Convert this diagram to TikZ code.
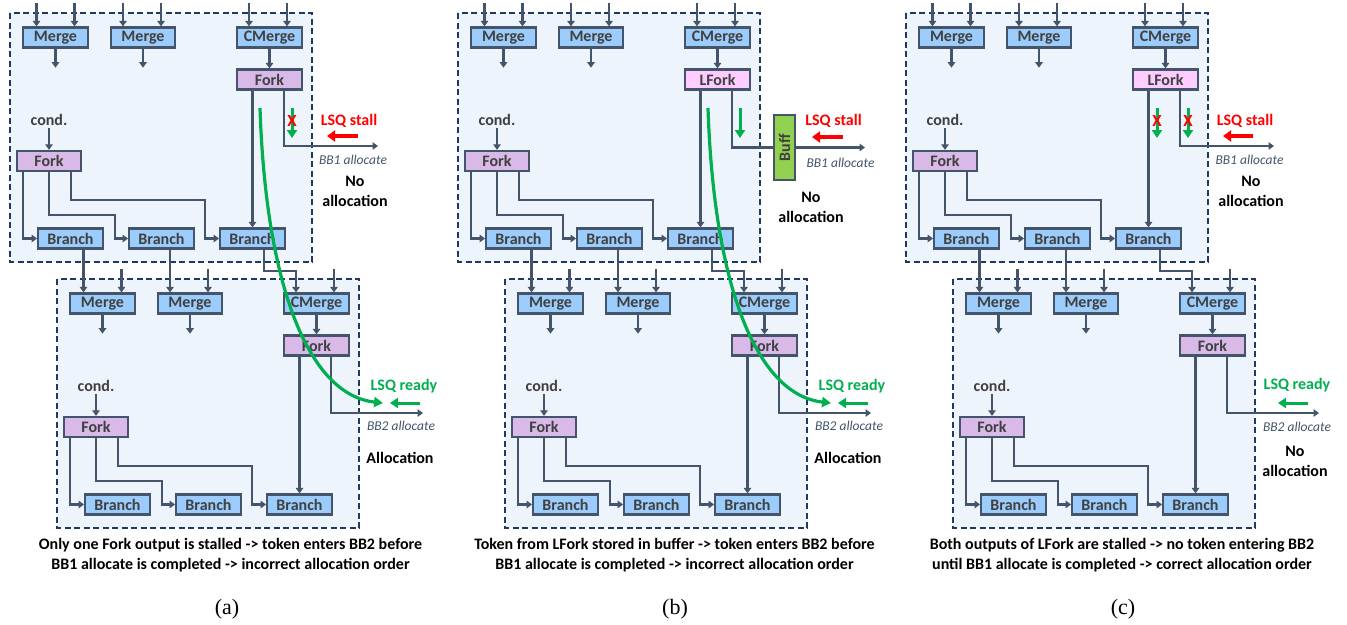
\documentclass[tikz,border=0pt]{standalone}
\usepackage{fontspec}
\setmainfont{Carlito}
\newfontfamily\capserif{Liberation Serif}
\usetikzlibrary{arrows.meta,calc}

\definecolor{slate}{HTML}{44546A}
\definecolor{navy}{HTML}{1F3864}
\definecolor{boxblue}{HTML}{9BCCFB}
\definecolor{forkc}{HTML}{D8B9E8}
\definecolor{lforkc}{HTML}{FFCCFF}
\definecolor{buffc}{HTML}{92D050}
\definecolor{bbfill}{HTML}{EEF4FB}
\definecolor{txtc}{HTML}{404040}
\definecolor{okgreen}{HTML}{00B050}
\definecolor{stopred}{HTML}{FF0000}

\tikzset{
  blk/.style={draw=slate, line width=2.3pt, fill=boxblue, minimum width=64.5pt,
    minimum height=20pt, inner sep=0pt, text=txtc,
    font=\bfseries\fontsize{16}{19}\selectfont},
  buffbox/.style={draw=slate, line width=2.3pt, fill=buffc, minimum width=20.5pt,
    minimum height=64.5pt, inner sep=0pt, text=txtc,
    font=\bfseries\fontsize{16}{19}\selectfont},
  bbox/.style={draw=navy, line width=2.4pt, dash pattern=on 6pt off 3.5pt, fill=bbfill},
  wire/.style={draw=slate, line width=2.2pt, -{Triangle[length=5.5pt,width=7.5pt]}},
  garr/.style={draw=okgreen, line width=3pt, -{Triangle[length=8pt,width=10pt]}},
  rarr/.style={draw=stopred, line width=3.5pt, -{Triangle[length=8pt,width=11pt]}},
  gcurve/.style={draw=okgreen, line width=3.2pt, -{Triangle[length=9pt,width=10pt]}},
  condlbl/.style={text=txtc, font=\bfseries\fontsize{16}{19}\selectfont, inner sep=0pt},
  stalllbl/.style={text=stopred, font=\bfseries\fontsize{16}{19}\selectfont, inner sep=0pt},
  readylbl/.style={text=okgreen, font=\bfseries\fontsize{16}{19}\selectfont, inner sep=0pt},
  xmark/.style={text=stopred, font=\bfseries\fontsize{17}{19}\selectfont, inner sep=0pt},
  alloclbl/.style={text=slate, font=\itshape\fontsize{13.5}{16}\selectfont, inner sep=0pt},
  verdict/.style={text=black, font=\bfseries\fontsize{16}{20}\selectfont, align=center, inner sep=0pt},
  caption/.style={text=black, font=\bfseries\fontsize{16}{20}\selectfont, align=center, inner sep=0pt},
  sublbl/.style={text=black, font=\capserif\fontsize{22}{24}\selectfont, inner sep=0pt},
}

% One basic block: container, merges, forks, branches and their internal wiring.
% #1 name prefix, #2 fill of the upper fork, #3 label of the upper fork
\newcommand\bbunit[3]{%
  \draw[bbox] (10,13) rectangle (312,262);
  \node[blk] (#1m1) at (55.5,37.5) {Merge};
  \node[blk] (#1m2) at (143,37.5) {Merge};
  \node[blk] (#1cm) at (269.5,37.5) {CMerge};
  \node[blk,fill=#2] (#1fk) at (269.5,79.5) {#3};
  \node[blk,fill=forkc] (#1cf) at (49,161) {Fork};
  \node[blk] (#1b1) at (70.5,238.5) {Branch};
  \node[blk] (#1b2) at (161.5,238.5) {Branch};
  \node[blk] (#1b3) at (252.5,238.5) {Branch};
  \node[condlbl] (#1cond) at (49,120) {cond.};
  % merge inputs
  \coordinate (#1l1) at ([xshift=-19pt]#1m1.north);
  \coordinate (#1l2) at ([xshift=-20pt]#1m2.north);
  \coordinate (#1l3) at ([xshift=-20.5pt]#1cm.north);
  \coordinate (#1r1) at ([xshift=19pt]#1m1.north);
  \coordinate (#1r2) at ([xshift=18pt]#1m2.north);
  \coordinate (#1r3) at ([xshift=17.5pt]#1cm.north);
  \draw[wire] ($(#1r1)+(0,-23)$) -- (#1r1);
  \draw[wire] ($(#1r2)+(0,-23)$) -- (#1r2);
  \draw[wire] ($(#1r3)+(0,-23)$) -- (#1r3);
  % merge outputs
  \draw[wire] (#1m1.south) -- ++(0,19);
  \draw[wire] (#1m2.south) -- ++(0,19);
  \draw[wire] (#1cm.south) -- (#1fk.north);
  % condition fork
  \draw[wire] (#1cond.south) ++(0,2) -- (#1cf.north);
  \draw[wire] ([xshift=-26pt]#1cf.south) |- (#1b1.west);
  \draw[wire] (#1cf.south) -- ++(0,43) -| ([xshift=-13pt]#1b2.west) -- (#1b2.west);
  \draw[wire] ([xshift=22pt]#1cf.south) -- ++(0,28) -| ([xshift=-14pt]#1b3.west) -- (#1b3.west);
  % upper fork
  \draw[wire] (#1b3.north |- #1fk.south) -- (#1b3.north);
  \coordinate (#1fo) at ([xshift=14.5pt]#1fk.south);
}

% left input stubs of the first block
\newcommand\topstubs[1]{%
  \draw[wire] ($(#1l1)+(0,-23)$) -- (#1l1);
  \draw[wire] ($(#1l2)+(0,-23)$) -- (#1l2);
  \draw[wire] ($(#1l3)+(0,-23)$) -- (#1l3);
}

% branch outputs of block #1 feeding merges of block #2
\newcommand\bblink[2]{%
  \draw[wire] (#1b1.south -| #2l1) -- (#2l1);
  \draw[wire] (#1b2.south -| #2l2) -- (#2l2);
  \draw[wire] ([xshift=11.5pt]#1b3.south) -- ++(0,21) -| (#2l3);
}

\begin{document}
\begin{tikzpicture}[x=1pt,y=-1pt]
\fill[white] (0,0) rectangle (1347,624);
\useasboundingbox (0,0) rectangle (1347,624);

% ---------------- (a) ----------------
\begin{scope}
  \bbunit{a1}{forkc}{Fork}
  \topstubs{a1}
  \begin{scope}[shift={(47,266)}]
    \bbunit{a2}{forkc}{Fork}
  \end{scope}
  \bblink{a1}{a2}
  % BB1 allocation port
  \coordinate (a1al) at (378,146);
  \draw[wire] (a1fo) |- (a1al);
  \coordinate (a1gs) at (292,108); \coordinate (a1ge) at (292,138);
  \draw[garr] (a1gs) -- (a1ge);
  \node[xmark] (a1x) at (292,121) {X};
  \node[stalllbl] (a1ls) at (349,121) {LSQ stall};
  \coordinate (a1rs) at (358,136); \coordinate (a1re) at (327,136);
  \draw[rarr] (a1rs) -- (a1re);
  \node[alloclbl] (a1bb) at (353,160) {BB1 allocate};
  \node[verdict] (a1v) at (355,191) {No\\allocation};
  % BB2 allocation port
  \coordinate (a2al) at (423,413);
  \draw[wire] (a2fo) |- (a2al);
  \node[readylbl] (a2lr) at (404,386) {LSQ ready};
  \coordinate (a2rs) at (420,403); \coordinate (a2re) at (390,403);
  \draw[garr] (a2rs) -- (a2re);
  \node[alloclbl] (a2bb) at (401,426) {BB2 allocate};
  \node[verdict] (a2v) at (400,458) {Allocation};
  % token path
  \coordinate (a1ts) at (260,108); \coordinate (a1te) at (383,403);
  \draw[gcurve] (a1ts) .. controls (266,290) and (310,395) .. (a1te);
\end{scope}

% ---------------- (b) ----------------
\begin{scope}[xshift=448pt]
  \bbunit{b1}{lforkc}{LFork}
  \topstubs{b1}
  \begin{scope}[shift={(47,266)}]
    \bbunit{b2}{forkc}{Fork}
  \end{scope}
  \bblink{b1}{b2}
  % BB1 allocation port through the buffer
  \node[buffbox] (b1buf) at (336.5,147.5) {\rotatebox{90}{Buff}};
  \draw[draw=slate, line width=2.2pt] (b1fo) |- (b1buf.west);
  \coordinate (b1al) at (417,147.5);
  \draw[wire] (b1buf.east) -- (b1al);
  \coordinate (b1gs) at (292,108); \coordinate (b1ge) at (292,138);
  \draw[garr] (b1gs) -- (b1ge);
  \node[stalllbl] (b1ls) at (385.5,121) {LSQ stall};
  \coordinate (b1rs) at (395,137); \coordinate (b1re) at (364,137);
  \draw[rarr] (b1rs) -- (b1re);
  \node[alloclbl] (b1bb) at (392.5,163) {BB1 allocate};
  \node[verdict] (b1v) at (363,207) {No\\allocation};
  % BB2 allocation port
  \coordinate (b2al) at (423,413);
  \draw[wire] (b2fo) |- (b2al);
  \node[readylbl] (b2lr) at (404,386) {LSQ ready};
  \coordinate (b2rs) at (420,403); \coordinate (b2re) at (390,403);
  \draw[garr] (b2rs) -- (b2re);
  \node[alloclbl] (b2bb) at (401,426) {BB2 allocate};
  \node[verdict] (b2v) at (400,458) {Allocation};
  % token path
  \coordinate (b1ts) at (260,108); \coordinate (b1te) at (383,403);
  \draw[gcurve] (b1ts) .. controls (266,290) and (310,395) .. (b1te);
\end{scope}

% ---------------- (c) ----------------
\begin{scope}[xshift=896pt]
  \bbunit{c1}{lforkc}{LFork}
  \topstubs{c1}
  \begin{scope}[shift={(47,266)}]
    \bbunit{c2}{forkc}{Fork}
  \end{scope}
  \bblink{c1}{c2}
  % BB1 allocation port
  \coordinate (c1al) at (378,146);
  \draw[wire] (c1fo) |- (c1al);
  \coordinate (c1gs) at (261,108); \coordinate (c1ge) at (261,138);
  \draw[garr] (c1gs) -- (c1ge);
  \node[xmark] (c1x) at (261,121) {X};
  \coordinate (c1hs) at (292,108); \coordinate (c1he) at (292,138);
  \draw[garr] (c1hs) -- (c1he);
  \node[xmark] (c1y) at (292,121) {X};
  \node[stalllbl] (c1ls) at (349,121) {LSQ stall};
  \coordinate (c1rs) at (357,136); \coordinate (c1re) at (327,136);
  \draw[rarr] (c1rs) -- (c1re);
  \node[alloclbl] (c1bb) at (353.5,160) {BB1 allocate};
  \node[verdict] (c1v) at (355,191) {No\\allocation};
  % BB2 allocation port
  \coordinate (c2al) at (423,413);
  \draw[wire] (c2fo) |- (c2al);
  \node[readylbl] (c2lr) at (401,385) {LSQ ready};
  \coordinate (c2rs) at (412,403); \coordinate (c2re) at (382,403);
  \draw[garr] (c2rs) -- (c2re);
  \node[alloclbl] (c2bb) at (401,427) {BB2 allocate};
  \node[verdict] (c2v) at (399,461) {No\\allocation};
\end{scope}

% captions
\node[caption] (capa) at (230.5,555) {Only one Fork output is stalled -> token enters BB2 before\\BB1 allocate is completed -> incorrect allocation order};
\node[caption] (capb) at (674.5,555) {Token from LFork stored in buffer -> token enters BB2 before\\BB1 allocate is completed -> incorrect allocation order};
\node[caption] (capc) at (1122,555) {Both outputs of LFork are stalled -> no token entering BB2\\until BB1 allocate is completed -> correct allocation order};
\node[sublbl] (suba) at (227,609) {(a)};
\node[sublbl] (subb) at (675,609) {(b)};
\node[sublbl] (subc) at (1123,609) {(c)};
\end{tikzpicture}
\end{document}
